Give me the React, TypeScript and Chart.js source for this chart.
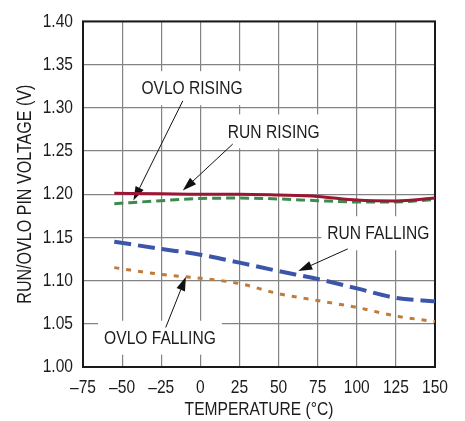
import React, { useEffect, useRef } from "react";
import { Chart, registerables } from "chart.js";

Chart.register(...registerables);

const temperatures = [-55, -25, 0, 25, 50, 75, 100, 125, 150];
const runRising = [1.201, 1.2005, 1.2, 1.2, 1.199, 1.1974, 1.1932, 1.1922, 1.1955];
const ovloRising = [1.189, 1.1925, 1.195, 1.1955, 1.1945, 1.1925, 1.191, 1.191, 1.194];
const runFalling = [1.145, 1.1367, 1.13, 1.1208, 1.111, 1.1019, 1.091, 1.08, 1.076];
const ovloFalling = [1.115, 1.1072, 1.1027, 1.0966, 1.0849, 1.0769, 1.069, 1.059, 1.0526];

const xTickValues = [-75, -50, -25, 0, 25, 50, 75, 100, 125, 150];
const yTickValues = [1.0, 1.05, 1.1, 1.15, 1.2, 1.25, 1.3, 1.35, 1.4];

const FONT = '"Liberation Sans", Arial, sans-serif';
const SQUEEZE = 0.82;
const TEXT = "#1e1b1c";

const labels = [
  { text: "OVLO RISING", x: -5.3, y: 1.3227, fx: -11.2, fy: 1.308, tx: -42.8, ty: 1.1928 },
  { text: "RUN RISING", x: 46.9, y: 1.2727, fx: 20.7, fy: 1.258, tx: -11.2, ty: 1.2042 },
  { text: "RUN FALLING", x: 113.8, y: 1.1548, fx: 94.2, fy: 1.1367, tx: 62.6, ty: 1.111 },
  { text: "OVLO FALLING", x: -25.8, y: 1.0339, fx: -22.1, fy: 1.0458, tx: -9.2, ty: 1.1045 },
];

const pts = (vals: number[]) => temperatures.map((t, i) => ({ x: t, y: vals[i] }));

// narrow (condensed) text rendering, anchored at the text's own anchor point
function condense(ctx: any) {
  if (ctx.__condensed) return;
  const orig = ctx.fillText.bind(ctx);
  ctx.fillText = (text: string, x: number, y: number, maxWidth?: number) => {
    ctx.save();
    ctx.translate(x, y);
    ctx.scale(SQUEEZE, 1);
    if (maxWidth !== undefined && maxWidth !== null) orig(text, 0, 0, maxWidth / SQUEEZE);
    else orig(text, 0, 0);
    ctx.restore();
  };
  ctx.__condensed = true;
}

const annotationPlugin = {
  id: "annot",
  beforeDatasetsDraw(chart: any) {
    const { ctx, scales, chartArea } = chart;
    const xs = scales.x;
    const ys = scales.y;
    ctx.save();
    ctx.font = `19px ${FONT}`;
    ctx.textAlign = "center";
    ctx.textBaseline = "middle";
    labels.forEach((l) => {
      const cx = xs.getPixelForValue(l.x);
      const cy = ys.getPixelForValue(l.y);
      const w = ctx.measureText(l.text).width * SQUEEZE + 12;
      ctx.fillStyle = "#ffffff";
      ctx.fillRect(cx - w / 2, cy - 17, w, 34);
    });
    labels.forEach((l) => {
      const cx = xs.getPixelForValue(l.x);
      const cy = ys.getPixelForValue(l.y);
      ctx.fillStyle = TEXT;
      ctx.fillText(l.text, cx, cy + 1);
      const x1 = xs.getPixelForValue(l.fx);
      const y1 = ys.getPixelForValue(l.fy);
      const x2 = xs.getPixelForValue(l.tx);
      const y2 = ys.getPixelForValue(l.ty);
      const ang = Math.atan2(y2 - y1, x2 - x1);
      const len = 14;
      const hw = 4.5;
      const bx = x2 - len * Math.cos(ang);
      const by = y2 - len * Math.sin(ang);
      ctx.strokeStyle = "#111";
      ctx.lineWidth = 1;
      ctx.beginPath();
      ctx.moveTo(x1, y1);
      ctx.lineTo(bx, by);
      ctx.stroke();
      ctx.fillStyle = "#111";
      ctx.beginPath();
      ctx.moveTo(x2, y2);
      ctx.lineTo(bx + hw * Math.sin(ang), by - hw * Math.cos(ang));
      ctx.lineTo(bx - hw * Math.sin(ang), by + hw * Math.cos(ang));
      ctx.closePath();
      ctx.fill();
    });
    ctx.strokeStyle = "#1a1a1a";
    ctx.lineWidth = 2;
    ctx.strokeRect(chartArea.left, chartArea.top, chartArea.right - chartArea.left, chartArea.bottom - chartArea.top);
    ctx.restore();
  },
};

export default function App() {
  const ref = useRef<HTMLCanvasElement | null>(null);
  useEffect(() => {
    if (!ref.current) return;
    const c2d = ref.current.getContext("2d");
    condense(c2d);
    const common = { pointRadius: 0, cubicInterpolationMode: "monotone" as const, fill: false };
    const chart = new Chart(ref.current, {
      type: "line",
      data: {
        datasets: [
          { label: "RUN RISING", data: pts(runRising), borderColor: "#9a1634", borderWidth: 3, ...common },
          { label: "OVLO RISING", data: pts(ovloRising), borderColor: "#3a8c4a", borderWidth: 3, borderDash: [9, 5], ...common },
          { label: "RUN FALLING", data: pts(runFalling), borderColor: "#3b56a8", borderWidth: 4, borderDash: [17, 7], ...common },
          { label: "OVLO FALLING", data: pts(ovloFalling), borderColor: "#c07a3a", borderWidth: 3, borderDash: [5, 7], ...common },
        ],
      },
      options: {
        animation: false,
        responsive: false,
        devicePixelRatio: 1,
        layout: { padding: { left: 0, right: 30, top: 15, bottom: 0 } },
        plugins: { legend: { display: false }, tooltip: { enabled: false } },
        scales: {
          x: {
            type: "linear",
            min: -75,
            max: 150,
            afterFit: (s: any) => {
              s.height = 54;
            },
            afterBuildTicks: (s: any) => {
              s.ticks = xTickValues.map((v) => ({ value: v }));
            },
            ticks: {
              color: TEXT,
              font: { family: FONT, size: 19 },
              padding: 9,
              maxRotation: 0,
              autoSkip: false,
              callback: (v: any) => (Number(v) < 0 ? "\u2013" + Math.abs(Number(v)) : String(v)),
            },
            grid: { color: "#838383", lineWidth: 1.2, drawTicks: false },
            border: { display: false },
            title: {
              display: true,
              text: "TEMPERATURE (°C)",
              color: TEXT,
              font: { family: FONT, size: 19 },
              padding: { top: 0, bottom: 0 },
            },
          },
          y: {
            type: "linear",
            min: 1.0,
            max: 1.4,
            afterFit: (s: any) => {
              s.width = 83;
            },
            afterBuildTicks: (s: any) => {
              s.ticks = yTickValues.map((v) => ({ value: v }));
            },
            ticks: {
              color: TEXT,
              font: { family: FONT, size: 19 },
              padding: 10,
              autoSkip: false,
              callback: (v: any) => Number(v).toFixed(2),
            },
            grid: { color: "#838383", lineWidth: 1.2, drawTicks: false },
            border: { display: false },
            title: {
              display: true,
              text: "RUN/OVLO PIN VOLTAGE (V)",
              color: TEXT,
              font: { family: FONT, size: 19.6 },
              padding: { top: 14, bottom: 0 },
            },
          },
        },
      },
      plugins: [annotationPlugin],
    });
    return () => chart.destroy();
  }, []);
  return (
    <div style={{ position: "fixed", left: 0, top: 0, width: 465, height: 421, background: "#fff" }}>
      <canvas ref={ref} width={465} height={421} style={{ width: 465, height: 421 }} />
    </div>
  );
}
